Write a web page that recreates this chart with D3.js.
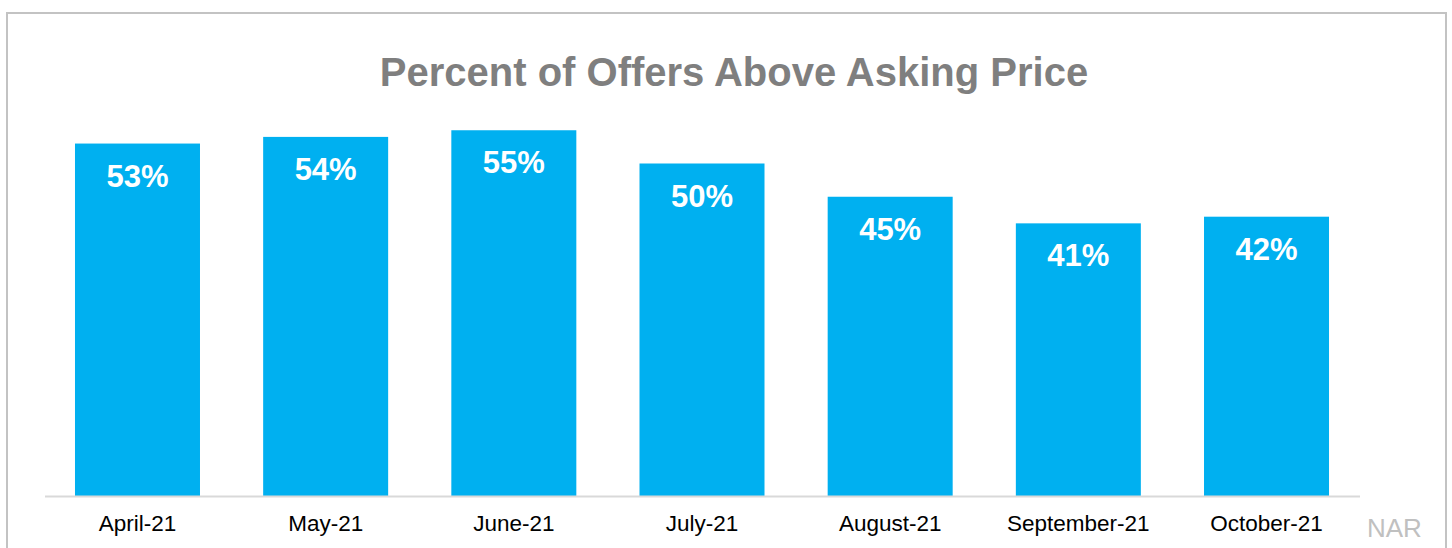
<!DOCTYPE html>
<html>
<head>
  <meta charset='utf-8'>
  <style>
    body { margin: 0; background: #fff; }
    text { font-family: "Liberation Sans", Arial, sans-serif; }
  </style>
  <script src='https://cdn.jsdelivr.net/npm/d3@7'></script>
</head>
<body>
  <script>
    // values
    const months = ["April-21", "May-21", "June-21", "July-21", "August-21", "September-21", "October-21"]
    const pct = [53, 54, 55, 50, 45, 41, 42]

    const width = 1452, height = 548
    const svg = d3.select("body").append("svg")
      .attr("width", width)
      .attr("height", height)

    // outer frame (bottom edge runs off the picture)
    svg.append("path")
      .attr("d", "M7,560V13H1446V560")
      .attr("fill", "none")
      .attr("stroke", "#c3c3c3")
      .attr("stroke-width", 2)

    svg.append("text")
      .attr("x", 734).attr("y", 86)
      .attr("text-anchor", "middle")
      .attr("font-size", 40).attr("font-weight", "bold")
      .attr("fill", "#7f7f7f")
      .text("Percent of Offers Above Asking Price")

    const x = d3.scaleBand(months, [44.5, 1359.5]).paddingInner(0.3357).paddingOuter(0.162)
    const y = d3.scaleLinear([0, 60], [496, 97])

    svg.append("g")
      .selectAll("rect")
      .data(months)
      .join("rect")
      .attr("x", d => x(d))
      .attr("width", x.bandwidth())
      .attr("y", (d, i) => y(pct[i]))
      .attr("height", (d, i) => y(0) - y(pct[i]))
      .attr("fill", "#00b0f0")

    svg.append("g")
      .selectAll("text")
      .data(months)
      .join("text")
      .attr("x", d => x(d) + x.bandwidth() / 2)
      .attr("y", (d, i) => y(pct[i]) + 43)
      .attr("text-anchor", "middle")
      .attr("font-size", 31).attr("font-weight", "bold")
      .attr("fill", "#fff")
      .text((d, i) => pct[i] + "%")

    const xAxis = g => g
      .attr("transform", `translate(0,${y(0)})`)
      .call(d3.axisBottom(x).tickSize(0).tickPadding(19))
      .call(g => g.select(".domain").attr("stroke", "#d9d9d9").attr("stroke-width", 2))
      .call(g => g.selectAll(".tick text")
        .attr("font-size", 22.5)
        .attr("font-family", "'Liberation Sans', Arial, sans-serif")
        .attr("fill", "#000"))

    svg.append("g").call(xAxis)

    svg.append("text")
      .attr("x", 1367).attr("y", 537)
      .attr("font-size", 26)
      .attr("fill", "#c0c0c0")
      .text("NAR")
  </script>
</body>
</html>
